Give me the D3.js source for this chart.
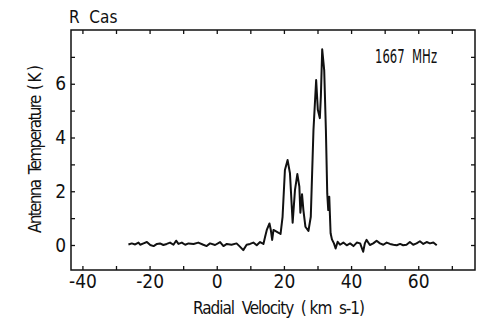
<!DOCTYPE html>
<html>
<head>
<meta charset="utf-8">
<script src="https://cdn.jsdelivr.net/npm/d3@7"></script>
<style>
  body { margin: 0; background: #fff; }
  text { font-family: "Liberation Sans Narrow", "DejaVu Sans Condensed", sans-serif; fill: #111; }
</style>
</head>
<body>
<div id="chart"></div>
<script>
// radial velocity (km/s) and antenna temperature (K)
const velocity = [
  -26.3, -25.3, -24.3, -23.3, -22.8, -21.8, -20.8, -19.8, -18.8, -17.8,
  -16.9, -15.9, -14.9, -13.9, -12.9, -12.1, -11.4, -10.4, -9.4, -8.4,
  -6.9, -5.5, -4.0, -3.0, -2.0, -0.5, 1.0, 2.0, 3.0, 4.4,
  5.9, 6.9, 7.9, 8.9, 9.9, 10.9, 11.9, 12.9, 13.9, 14.4,
  14.9, 15.7, 16.1, 16.5, 16.9, 17.8, 19.0, 19.6, 20.3, 21.1,
  21.8, 22.6, 23.3, 24.0, 24.6, 24.9, 25.4, 25.8, 26.4, 27.3,
  28.0, 28.8, 29.6, 30.1, 30.7, 31.0, 31.4, 32.0, 32.5, 32.9,
  33.2, 33.5, 33.9, 34.3, 34.9, 35.4, 36.0, 36.7, 37.7, 38.7,
  39.7, 40.7, 41.7, 42.7, 43.6, 44.1, 44.6, 45.6, 46.6, 47.6,
  48.6, 49.6, 50.6, 51.6, 52.6, 53.6, 54.6, 55.5, 56.5, 57.5,
  58.5, 59.5, 60.5, 61.5, 62.5, 63.5, 64.5, 65.5
];
const temperature = [
  0.02, 0.06, 0.02, 0.09, 0.01, 0.06, 0.11, 0.0, -0.04, 0.04,
  0.06, 0.0, 0.04, 0.09, 0.01, 0.16, 0.04, 0.09, 0.01, 0.06,
  0.04, 0.09, 0.01, -0.04, 0.06, 0.0, 0.11, -0.04, 0.04, 0.01,
  0.06, -0.06, -0.19, 0.01, 0.04, 0.09, -0.01, 0.11, 0.04, 0.31,
  0.56, 0.8, 0.56, 0.19, 0.56, 0.5, 0.41, 1.05, 2.79, 3.16,
  2.67, 0.83, 2.05, 2.64, 2.17, 1.2, 1.89, 1.3, 0.68, 0.52,
  1.05, 4.28, 6.14, 5.03, 4.72, 5.52, 7.28, 6.5, 4.28, 1.92,
  1.3, 1.8, 0.44, 0.21, 0.06, -0.13, 0.12, 0.01, 0.09, -0.01,
  0.06, -0.04, 0.09, 0.06, -0.25, 0.06, 0.19, 0.0, 0.06, 0.16,
  0.06, 0.01, 0.09, 0.04, 0.01, -0.01, 0.04, -0.01, 0.01, 0.11,
  0.01, 0.06, 0.14, 0.04, 0.11, 0.06, 0.09, -0.01
];
const xTicks = [-40, -30, -20, -10, 0, 10, 20, 30, 40, 50, 60, 70];
const yTicks = [0, 1, 2, 3, 4, 5, 6, 7];
const sourceName = "R  Cas";
const lineName = "1667  MHz";
const xTitle = "Radial  Velocity  ( km  s-1)";
const yTitle = "Antenna  Temperature  ( K )";

const width = 500, height = 335;
const margin = { left: 71, right: 475, top: 30, bottom: 270 };

const svg = d3.select("#chart").append("svg")
    .attr("width", width)
    .attr("height", height);

const x = d3.scaleLinear().domain([-43.4, 76.9]).range([margin.left, margin.right]);
const y = d3.scaleLinear().domain([-0.93, 8.0]).range([margin.bottom, margin.top]);

// bottom axis, ticks pointing inward
svg.append("g")
    .attr("transform", `translate(0,${margin.bottom})`)
    .call(d3.axisBottom(x).tickValues(xTicks).tickSize(-4).tickPadding(4)
        .tickFormat(d => d % 20 === 0 && d <= 60 ? d : ""))
    .call(g => g.select(".domain").remove())
    .selectAll("text").style("font-size", "19px").attr("font-family", null);

// top axis ticks
svg.append("g")
    .attr("transform", `translate(0,${margin.top})`)
    .call(d3.axisTop(x).tickValues(xTicks).tickSize(-4).tickFormat(""))
    .call(g => g.select(".domain").remove());

// left axis
svg.append("g")
    .attr("transform", `translate(${margin.left},0)`)
    .call(d3.axisLeft(y).tickValues(yTicks).tickSize(-4).tickPadding(5)
        .tickFormat(d => d % 2 === 0 ? d : ""))
    .call(g => g.select(".domain").remove())
    .selectAll("text").style("font-size", "19px").attr("font-family", null);

// right axis ticks
svg.append("g")
    .attr("transform", `translate(${margin.right},0)`)
    .call(d3.axisRight(y).tickValues(yTicks).tickSize(-4).tickFormat(""))
    .call(g => g.select(".domain").remove());

svg.selectAll(".tick line").attr("stroke", "#111").attr("stroke-width", 1.3);

// frame
svg.append("rect")
    .attr("x", margin.left).attr("y", margin.top)
    .attr("width", margin.right - margin.left).attr("height", margin.bottom - margin.top)
    .attr("fill", "none")
    .attr("stroke", "#111")
    .attr("stroke-width", 1.5);

// spectrum
const pts = velocity.map((v, i) => [v, temperature[i]]);
svg.append("path")
    .datum(pts)
    .attr("fill", "none")
    .attr("stroke", "#111")
    .attr("stroke-width", 2)
    .attr("stroke-linejoin", "round")
    .attr("d", d3.line().x(d => x(d[0])).y(d => y(d[1])));

svg.append("text")
    .attr("x", 69).attr("y", 23)
    .style("font-size", "17px")
    .style("white-space", "pre")
    .text(sourceName);

svg.append("text")
    .attr("x", 375).attr("y", 63)
    .style("font-size", "20px")
    .style("white-space", "pre")
    .attr("textLength", 62)
    .attr("lengthAdjust", "spacingAndGlyphs")
    .text(lineName);

svg.append("text")
    .attr("x", 279).attr("y", 314)
    .attr("text-anchor", "middle")
    .style("font-size", "17px")
    .style("white-space", "pre")
    .attr("textLength", 172)
    .text(xTitle);

svg.append("text")
    .attr("transform", "translate(40.5,149) rotate(-90)")
    .attr("text-anchor", "middle")
    .style("font-size", "17px")
    .style("white-space", "pre")
    .attr("textLength", 168)
    .text(yTitle);
</script>
</body>
</html>
